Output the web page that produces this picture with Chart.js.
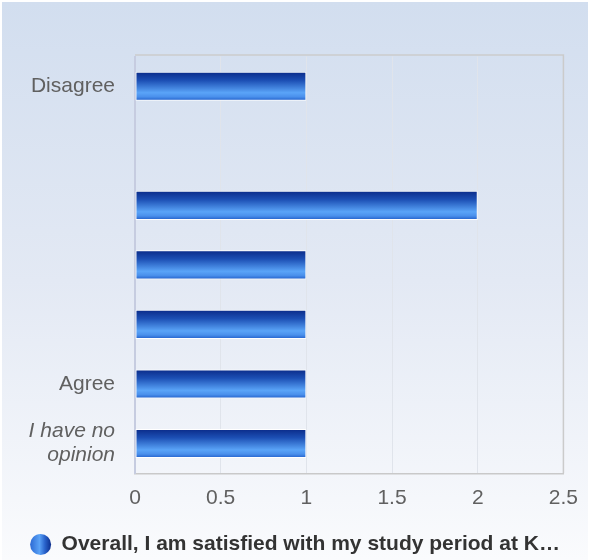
<!DOCTYPE html>
<html>
<head>
<meta charset="utf-8">
<script src="https://cdn.jsdelivr.net/npm/chart.js@4"></script>
<style>
  html, body { margin: 0; padding: 0; background: #fff; overflow: hidden; }
  #wrap { position: relative; width: 590px; height: 560px; background: #fff; }
  #bg { position: absolute; left: 2px; top: 2px; right: 2px; bottom: 0;
        background: linear-gradient(to bottom, #d2deef 0%, #e3e9f4 50%, #fafbfd 100%); }
  canvas { position: absolute; left: 0; top: 0; }
</style>
</head>
<body>
<div id="wrap"><div id="bg"></div><canvas id="chart" width="590" height="560"></canvas></div>
<script>
// Answer categories, top to bottom
const categories = ['Disagree', '', '', '', '', 'Agree', ['I have no', 'opinion']];
// Number of responses per category
const responses = [1, 0, 2, 1, 1, 1, 1];
// Value axis ticks
const xTicks = [0, 0.5, 1, 1.5, 2, 2.5];
const seriesName = 'Overall, I am satisfied with my study period at K…';

const FONT = "'Liberation Sans', Arial, Helvetica, sans-serif";
const BAR_SHARE = 0.49;

function barGradient(ctx, y0, y1) {
  const g = ctx.createLinearGradient(0, y0, 0, y1);
  g.addColorStop(0, '#0a2a88');
  g.addColorStop(0.3, '#1c4fb4');
  g.addColorStop(0.72, '#5aa4f8');
  g.addColorStop(0.86, '#4a90ec');
  g.addColorStop(1, '#1f5cc8');
  return g;
}

// Frame around the plotting area (top and right edges)
const plotFrame = {
  id: 'plotFrame',
  beforeDatasetsDraw(chart) {
    const { ctx, chartArea: a } = chart;
    ctx.save();
    ctx.strokeStyle = '#cbcbcb';
    ctx.lineWidth = 1.5;
    ctx.beginPath();
    ctx.moveTo(a.left, a.top - 1.5);
    ctx.lineTo(a.right, a.top - 1.5);
    ctx.lineTo(a.right, a.bottom);
    ctx.stroke();
    ctx.restore();
  }
};

// Horizontal shading for the legend marker
const legendShade = {
  id: 'legendShade',
  beforeDraw(chart) {
    const lg = chart.legend;
    if (!lg || !lg.legendItems || !lg.legendItems.length || !lg.legendHitBoxes || !lg.legendHitBoxes.length) return;
    const hb = lg.legendHitBoxes[0];
    if (!Number.isFinite(hb.left)) return;
    const g = chart.ctx.createLinearGradient(hb.left, 0, hb.left + 21, 0);
    g.addColorStop(0, '#2c6ad4');
    g.addColorStop(0.45, '#5aa2f6');
    g.addColorStop(0.7, '#2a64cc');
    g.addColorStop(1, '#0b2d8c');
    lg.legendItems[0].fillStyle = g;
    lg.legendItems[0].lineWidth = 0;
  }
};

new Chart(document.getElementById('chart'), {
  type: 'bar',
  data: {
    labels: categories,
    datasets: [{
      label: seriesName,
      data: responses,
      backgroundColor: (c) => {
        const ys = c.chart.scales && c.chart.scales.y;
        if (c.type !== 'data' || !ys) return '#2f6fd6';
        const yc = ys.getPixelForValue(c.dataIndex);
        const half = ys.height / categories.length * BAR_SHARE / 2;
        if (!Number.isFinite(yc) || !Number.isFinite(half) || half <= 0) return '#2f6fd6';
        return barGradient(c.chart.ctx, yc - half, yc + half);
      },
      borderColor: 'rgba(255,255,255,0.95)',
      borderWidth: 1,
      borderSkipped: false,
      barPercentage: BAR_SHARE,
      categoryPercentage: 1
    }]
  },
  options: {
    indexAxis: 'y',
    responsive: false,
    animation: false,
    devicePixelRatio: 1,
    layout: { padding: { top: 56.5, right: 26, left: 26, bottom: -5 } },
    scales: {
      x: {
        type: 'linear',
        min: 0,
        max: 2.5,
        afterBuildTicks: (s) => { s.ticks = xTicks.map(v => ({ value: v })); },
        afterFit: (s) => { s.height = 50.7; },
        grid: { color: '#e0e4eb', lineWidth: 1, drawTicks: false },
        border: { color: '#c9c9c9', width: 1.5 },
        ticks: {
          color: '#606060',
          padding: 12,
          font: { family: FONT, size: 21 },
          callback: (v) => String(v)
        }
      },
      y: {
        type: 'category',
        afterFit: (s) => { s.width = 109; },
        grid: { display: false, drawTicks: false },
        border: { color: '#c6cce0', width: 2 },
        ticks: {
          autoSkip: false,
          color: '#606060',
          padding: 20,
          font: (c) => ({ family: FONT, size: 21, lineHeight: 1.15,
                          style: c.index === categories.length - 1 ? 'italic' : 'normal' })
        }
      }
    },
    plugins: {
      tooltip: { enabled: false },
      legend: {
        position: 'bottom',
        labels: {
          usePointStyle: true,
          pointStyle: 'circle',
          pointStyleWidth: 21,
          boxHeight: 15,
          padding: 10,
          color: '#333333',
          font: { family: FONT, size: 21, weight: 'bold', lineHeight: 1 }
        }
      }
    }
  },
  plugins: [plotFrame, legendShade]
});
</script>
</body>
</html>
